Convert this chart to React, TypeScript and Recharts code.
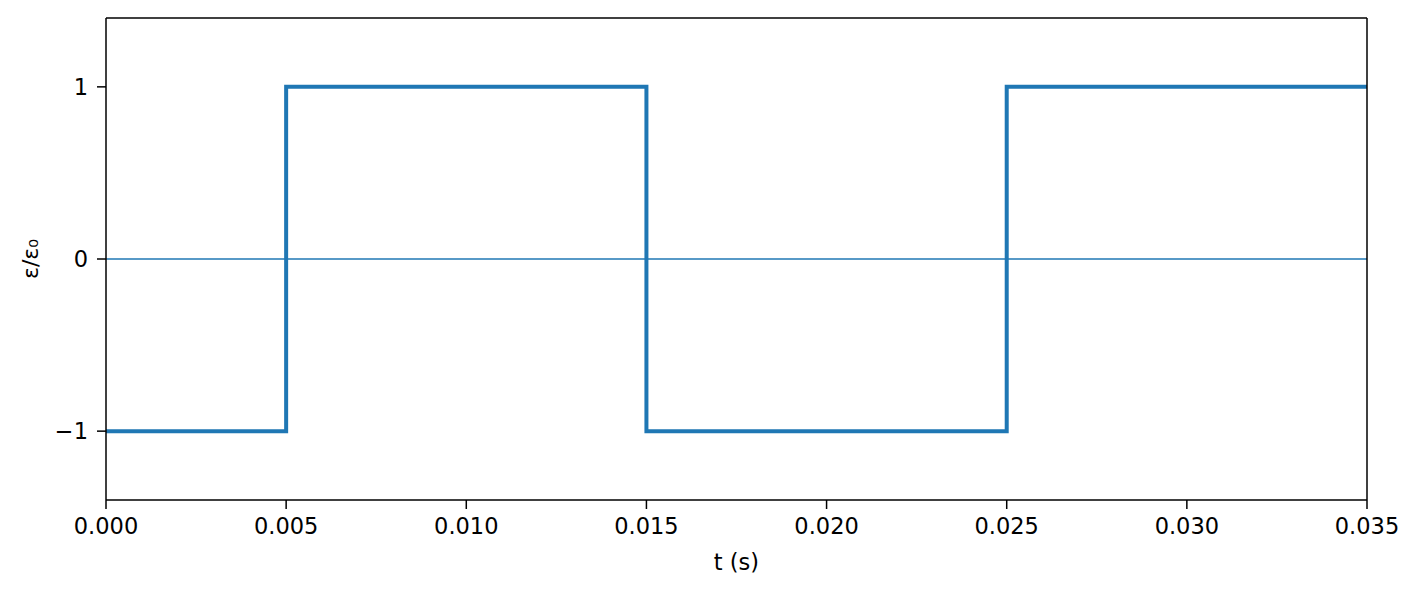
import React from "react"
import { LineChart, Line, XAxis, YAxis, ReferenceLine, Label } from "recharts"

// square wave: level holds from each switch time until the next one
const switchTimes = [0, 0.005, 0.015, 0.025, 0.035]
const levels = [-1, 1, -1, 1, 1]

const xTicks = [0, 0.005, 0.01, 0.015, 0.02, 0.025, 0.03, 0.035]
const yTicks = [-1, 0, 1]
const xDomain = [0, 0.035]
const yDomain = [-1.4, 1.4]

const data = switchTimes.map((t, i) => ({ t, e: levels[i] }))

const font = "DejaVu Sans"
const blue = "#1f77b4"

const fmtY = (v: number) => (v < 0 ? `\u2212${Math.abs(v)}` : `${v}`)

function YLabel(props: any) {
  const { viewBox } = props
  const cx = viewBox.x + 30
  const cy = viewBox.y + viewBox.height / 2
  return (
    <text
      x={cx}
      y={cy}
      transform={`rotate(-90 ${cx} ${cy})`}
      textAnchor="middle"
      dominantBaseline="central"
      fontFamily={font}
      fontSize={22}
      fill="#000"
    >
      ε/ε₀
    </text>
  )
}

export default function App() {
  const tickStyle = { fontFamily: font, fontSize: 22.5, fill: "#000" }
  const spine = { stroke: "#000", strokeWidth: 1.5 }
  return (
    <div style={{ position: "absolute", left: 0, top: 0, background: "#fff" }}>
      <LineChart width={1422} height={594} data={data} margin={{ top: 18, right: 55, left: 0, bottom: 0 }}>
        <XAxis
          dataKey="t"
          type="number"
          domain={xDomain}
          ticks={xTicks}
          tickFormatter={(v) => v.toFixed(3)}
          tick={tickStyle}
          tickSize={9}
          tickMargin={9}
          tickLine={spine}
          axisLine={spine}
          height={94}
          allowDataOverflow
        >
          <Label value="t (s)" position="insideBottom" offset={24} style={{ fontFamily: font, fontSize: 22.5, fill: "#000" }} />
        </XAxis>
        <YAxis
          type="number"
          domain={yDomain}
          ticks={yTicks}
          tickFormatter={fmtY}
          tick={tickStyle}
          tickSize={9}
          tickMargin={9}
          tickLine={spine}
          axisLine={spine}
          width={106}
          allowDataOverflow
        >
          <Label content={<YLabel />} />
        </YAxis>
        <ReferenceLine y={0} stroke={blue} strokeWidth={1.5} />
        <Line
          dataKey="e"
          type="stepAfter"
          stroke={blue}
          strokeWidth={4}
          strokeLinejoin="miter"
          dot={false}
          activeDot={false}
          isAnimationActive={false}
        />
        {/* top and right spines */}
        <ReferenceLine y={yDomain[1]} {...spine} ifOverflow="extendDomain" />
        <ReferenceLine x={xDomain[1]} {...spine} ifOverflow="extendDomain" />
      </LineChart>
    </div>
  )
}
